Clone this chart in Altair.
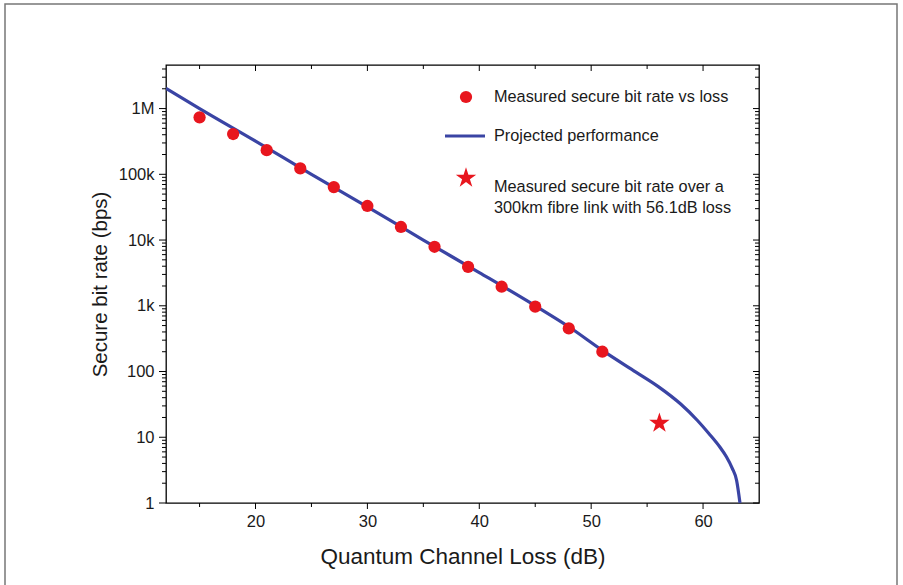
import altair as alt
import pandas as pd

# ---- data ----
meas_x = [15, 18, 21, 24, 27, 30, 33, 36, 39, 42, 45, 48, 51]
meas_y = [7.35e5, 4.1e5, 2.33e5, 1.23e5, 6.4e4, 3.3e4, 1.58e4, 7.9e3, 3.9e3, 1.95e3, 970, 452, 200]

star_x = [56.1]
star_y = [17]

proj_x = [12, 15, 20, 25, 30, 35, 40, 45, 48, 51, 54, 56, 58, 59.5, 60.5, 61.5, 62.1, 62.6, 63.0, 63.3]
proj_y = [2.03e6, 1.0e6, 3.2e5, 1.0e5, 3.2e4, 1.0e4, 3.2e3, 1.0e3, 480, 210, 98, 59, 32, 18, 11.5, 7.1, 5.0, 3.4, 2.2, 1.0]

x_major = [20, 30, 40, 50, 60]
x_minor = [15, 25, 35, 45, 55]
y_major = [1, 10, 100, 1000, 10000, 100000, 1000000]
y_minor = [m * d for d in [1, 10, 100, 1000, 10000, 100000] for m in range(2, 10)] + [2e6, 3e6, 4e6]

legend_labels = [
    "Measured secure bit rate vs loss",
    "Projected performance",
    "Measured secure bit rate over a\n300km fibre link with 56.1dB loss",
]

# ---- layout ----
W, H = 593, 438
FONT = "Liberation Sans"
RED = "#e8161e"
BLUE = "#3a44a4"
TXT = "#1a1a1a"
STAR = ("M0,-0.905L0.225,-0.214L0.951,-0.214L0.363,0.213L0.588,0.905L0,0.477"
        "L-0.588,0.905L-0.363,0.213L-0.951,-0.214L-0.225,-0.214Z")

xs = alt.Scale(domain=[12, 65], nice=False, zero=False)
ys = alt.Scale(type="log", domain=[1, 4.6e6], nice=False)

XT = "Quantum Channel Loss (dB)"
YT = "Secure bit rate (bps)"

xaxis = alt.Axis(values=x_major, ticks=False, domain=False, grid=False,
                 labelFont=FONT, labelFontSize=16.5, labelColor=TXT, labelPadding=10,
                 title=XT, titleFont=FONT, titleFontSize=22.5, titleFontWeight="normal",
                 titleColor=TXT, titlePadding=16)
yaxis = alt.Axis(values=y_major, ticks=False, domain=False, grid=False,
                 labelExpr="datum.value >= 1e6 ? '1M' : datum.value >= 1e3 ? format(datum.value/1e3, 'd') + 'k' : format(datum.value, 'd')",
                 labelFont=FONT, labelFontSize=16.5, labelColor=TXT, labelPadding=12,
                 labelOverlap=False,
                 title=YT, titleFont=FONT, titleFontSize=20.5, titleFontWeight="normal",
                 titleColor=TXT, titlePadding=8)

one = pd.DataFrame({"a": [0]})

frame = alt.Chart(one).mark_rect(filled=False, stroke="#777777", strokeWidth=1.5).encode(
    x=alt.value(-161), x2=alt.value(731), y=alt.value(-61), y2=alt.value(580))

proj = alt.Chart(pd.DataFrame({"x": proj_x, "y": proj_y})).mark_line(
    color=BLUE, strokeWidth=3.2, interpolate="monotone", clip=True).encode(
    x=alt.X("x:Q", scale=xs, axis=xaxis, title=XT),
    y=alt.Y("y:Q", scale=ys, axis=yaxis, title=YT))

meas = alt.Chart(pd.DataFrame({"x": meas_x, "y": meas_y})).mark_point(
    shape="circle", filled=True, size=150, color=RED, opacity=1).encode(
    x=alt.X("x:Q", scale=xs, title=XT), y=alt.Y("y:Q", scale=ys, title=YT))

star = alt.Chart(pd.DataFrame({"x": star_x, "y": star_y})).mark_point(
    shape=STAR, filled=True, size=460, color=RED, opacity=1).encode(
    x=alt.X("x:Q", scale=xs, title=XT), y=alt.Y("y:Q", scale=ys, title=YT))

# ---- tick marks (all four sides) ----
def xticks(vals, y0, y1):
    return alt.Chart(pd.DataFrame({"x": vals})).mark_rule(color="black", strokeWidth=1).encode(
        x=alt.X("x:Q", scale=xs, title=XT), y=alt.value(y0), y2=alt.value(y1))

def yticks(vals, x0, x1):
    return alt.Chart(pd.DataFrame({"y": vals})).mark_rule(color="black", strokeWidth=1).encode(
        y=alt.Y("y:Q", scale=ys, title=YT), x=alt.value(x0), x2=alt.value(x1))

ticks = [
    xticks(x_major, H, H + 6), xticks(x_minor, H, H + 4),
    xticks(x_major, 0, 6), xticks(x_minor, 0, 4),
    yticks(y_major, -7, 0), yticks(y_minor, -4, 0),
    yticks(y_major, W, W - 6), yticks(y_minor, W, W - 4),
]

# ---- legend ----
leg_circle = alt.Chart(one).mark_point(shape="circle", filled=True, size=150, color=RED, opacity=1).encode(
    x=alt.value(300), y=alt.value(32))
leg_line = alt.Chart(one).mark_rule(color=BLUE, strokeWidth=3.2).encode(
    x=alt.value(279), x2=alt.value(319), y=alt.value(71))
leg_star = alt.Chart(one).mark_point(shape=STAR, filled=True, size=460, color=RED, opacity=1).encode(
    x=alt.value(300), y=alt.value(112))

def leg_text(label, y):
    return alt.Chart(pd.DataFrame({"t": [label]})).mark_text(
        align="left", baseline="middle", font=FONT, fontSize=16.3, color=TXT,
        lineBreak="\n", lineHeight=21).encode(text="t:N", x=alt.value(328), y=alt.value(y))

legend = [leg_circle, leg_line, leg_star,
          leg_text(legend_labels[0], 32), leg_text(legend_labels[1], 71), leg_text(legend_labels[2], 122)]

chart = alt.layer(frame, proj, meas, star, *ticks, *legend).properties(
    width=W, height=H,
    autosize=alt.AutoSizeParams(type="none"),
    padding={"left": 166, "top": 65, "right": 144, "bottom": 82},
    background="white",
).configure_view(stroke="black", strokeWidth=1.3)

chart.save("out.html", embed_options={"renderer": "svg", "actions": False})
